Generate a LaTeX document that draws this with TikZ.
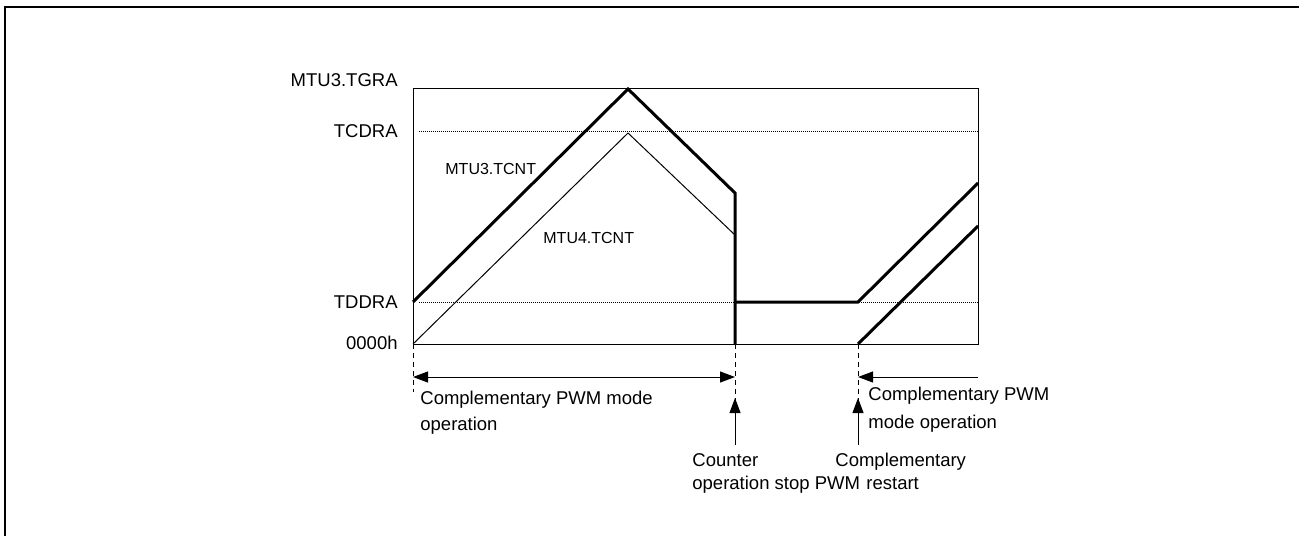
\documentclass[tikz,border=0pt]{standalone}
\usepackage{fontspec}
\setmainfont{Liberation Sans}
\usetikzlibrary{arrows.meta}

\tikzset{
  frameline/.style={line width=1.2pt},
  thinline/.style={line width=0.5pt},
  cntline/.style={line width=1.5pt},
  levelline/.style={line width=0.5pt,dash pattern=on 0.5pt off 0.5pt},
  guideline/.style={line width=0.5pt,dash pattern=on 2.5pt off 2pt},
  arr/.style={line width=0.5pt,-{Triangle[length=7.5pt,width=5.5pt]}},
  lvl/.style={anchor=east,inner sep=0pt,font=\fontsize{9.25}{11}\selectfont},
  cnt/.style={anchor=west,inner sep=0pt,font=\fontsize{8}{10}\selectfont},
  note/.style={anchor=north west,inner sep=0pt,align=left}
}

\begin{document}
\begin{tikzpicture}[x=0.5pt,y=-0.5pt]

\useasboundingbox (0,0) rectangle (1299,536);

% outer frame
\draw[frameline] (1299,7) -- (5,7) -- (5,536);

% levels
\coordinate (tl) at (413,88);
\coordinate (br) at (978,344);
\draw[thinline] (tl) rectangle (br);
\draw[levelline] (419,131) -- (978,131);
\draw[levelline] (419,302) -- (978,302);

\node[lvl] (tgra) at (398,80) {MTU3.TGRA};
\node[lvl] (tcdra) at (398,131) {TCDRA};
\node[lvl] (tddra) at (398,302) {TDDRA};
\node[lvl] (zero) at (398,343) {0000h};

% counters
\coordinate (stop) at (735,344);
\coordinate (restart) at (858,344);

\draw[cntline,line join=miter] (413,302) -- (628,89) -- (735,193) -- (stop);
\draw[cntline] (735,302) -- (858,302) -- (978,183);
\draw[thinline] (413,344) -- (628,133) -- (735,235);
\draw[cntline] (restart) -- (978,226);

\node[cnt] (tcnt3) at (445,169) {MTU3.TCNT};
\node[cnt] (tcnt4) at (543,238) {MTU4.TCNT};

% time marks
\coordinate (start) at (413,344);
\coordinate (startend) at (413,392);
\coordinate (stopend) at (735,400);
\coordinate (restartend) at (858,400);
\draw[guideline] (start) -- (startend);
\draw[guideline] (stop) -- (stopend);
\draw[guideline] (restart) -- (restartend);

\coordinate (spanl) at (413,377);
\coordinate (spanm) at (735,377);
\coordinate (spann) at (858,377);
\coordinate (spanr) at (978,377);
\draw[arr,{Triangle[length=7.5pt,width=5.5pt]}-{Triangle[length=7.5pt,width=5.5pt]}] (spanl) -- (spanm);
\draw[arr] (spanr) -- (spann);

\coordinate (stopfoot) at (735,445);
\coordinate (restartfoot) at (858,445);
\draw[arr] (stopfoot) -- (735,398);
\draw[arr] (restartfoot) -- (858,398);

\node[note,font=\fontsize{9.25}{13}\selectfont] (mode1) at (420,391) {Complementary PWM mode\\operation};
\node[note,font=\fontsize{9.25}{14}\selectfont] (mode2) at (868,387) {Complementary PWM\\mode operation};
\node[note,font=\fontsize{9.25}{11.5}\selectfont] (stoptxt) at (692,453) {Counter\\operation stop PWM};
\node[note,font=\fontsize{9.25}{11.5}\selectfont] (restarttxt) at (835,453) {Complementary\\\hspace*{15.5pt}restart};

\end{tikzpicture}
\end{document}
